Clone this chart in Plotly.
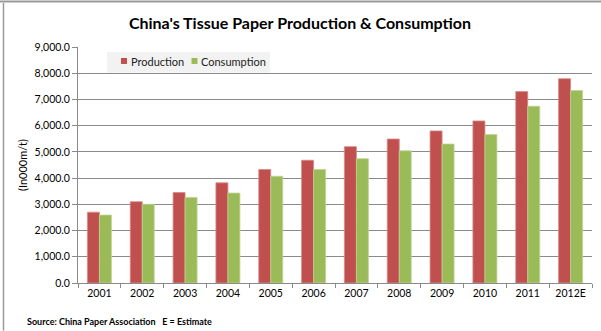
import plotly.graph_objects as go

# China tissue paper market, thousand metric tonnes
years = ["2001", "2002", "2003", "2004", "2005", "2006",
         "2007", "2008", "2009", "2010", "2011", "2012E"]
production = [2700, 3100, 3450, 3820, 4330, 4680,
              5200, 5490, 5800, 6180, 7300, 7790]
consumption = [2590, 3000, 3265, 3430, 4070, 4330,
               4740, 5040, 5300, 5660, 6740, 7340]
y_ticks = [0, 1000, 2000, 3000, 4000, 5000, 6000, 7000, 8000, 9000]

W, H = 601, 331
L, R, T, B = 78, 9, 47, 47.5
FONT = "Lato"
GRID = "#8a8a8a"
RED, GREEN = "#C0504D", "#9BBB59"

fig = go.Figure()
fig.add_bar(x=years, y=production, name="Production",
            marker=dict(color=RED, line=dict(color="#D58A88", width=0.8)))
fig.add_bar(x=years, y=consumption, name="Consumption",
            marker=dict(color=GREEN, line=dict(color="#BCD494", width=0.8)))

pw = W - L - R
ph = H - T - B

def px_x(x):
    return (x - L) / pw

def px_y(y):
    return (H - B - y) / ph

fig.update_layout(
    width=W, height=H,
    margin=dict(l=L, r=R, t=T, b=B, pad=0),
    paper_bgcolor="white", plot_bgcolor="white",
    barmode="group", bargap=0.44, bargroupgap=0,
    font=dict(family=FONT, size=11, color="#000"),
    title=dict(text="<b>China's Tissue Paper Production & Consumption</b>",
               x=300 / W, xanchor="center", y=1 - 23 / H, yanchor="middle",
               font=dict(family=FONT, size=16, color="#000")),
    showlegend=False,
    xaxis=dict(type="category", showline=True, linecolor=GRID, linewidth=1,
               ticks="outside", tickson="boundaries", ticklen=4, tickcolor=GRID,
               showgrid=False, tickfont=dict(size=10.5)),
    yaxis=dict(range=[0, 9000], tickvals=y_ticks, tickformat=",.1f",
               showline=True, linecolor=GRID, linewidth=1,
               ticks="outside", ticklen=5, tickcolor=GRID,
               showgrid=True, gridcolor=GRID, gridwidth=1, zeroline=False,
               tickfont=dict(size=10.5),
               title=dict(text="(In000m/t)", font=dict(size=11), standoff=4)),
)

# legend panel: grey box with a small colour key per series
fig.add_shape(type="rect", xref="paper", yref="paper", layer="above",
              x0=px_x(107), x1=px_x(270), y0=px_y(72.5), y1=px_y(52),
              fillcolor="#F2F2F2", line=dict(width=0))
legend_items = [(RED, "Production", 121), (GREEN, "Consumption", 191.5)]
for color, label, x in legend_items:
    fig.add_shape(type="rect", xref="paper", yref="paper", layer="above",
                  x0=px_x(x), x1=px_x(x + 6), y0=px_y(64), y1=px_y(58),
                  fillcolor=color, line=dict(width=0))
    fig.add_annotation(text=label, xref="paper", yref="paper",
                       x=px_x(x + 7.5), y=px_y(61.5), xanchor="left", yanchor="middle",
                       showarrow=False, font=dict(family=FONT, size=11, color="#222"))

# frame lines along the top and left edges of the chart
fig.add_shape(type="line", xref="paper", yref="paper",
              x0=px_x(0), x1=px_x(W), y0=px_y(1.5), y1=px_y(1.5),
              line=dict(color="#9a9a9a", width=2))
fig.add_shape(type="line", xref="paper", yref="paper",
              x0=px_x(3.5), x1=px_x(3.5), y0=px_y(3), y1=px_y(H),
              line=dict(color="#9a9a9a", width=1.5))

fig.add_annotation(text="<b>Source: China Paper Association   E = Estimate</b>",
                   xref="paper", yref="paper", x=px_x(25), y=px_y(322),
                   xanchor="left", yanchor="middle", showarrow=False,
                   font=dict(family=FONT, size=9, color="#000"))

fig.write_html("out.html")
